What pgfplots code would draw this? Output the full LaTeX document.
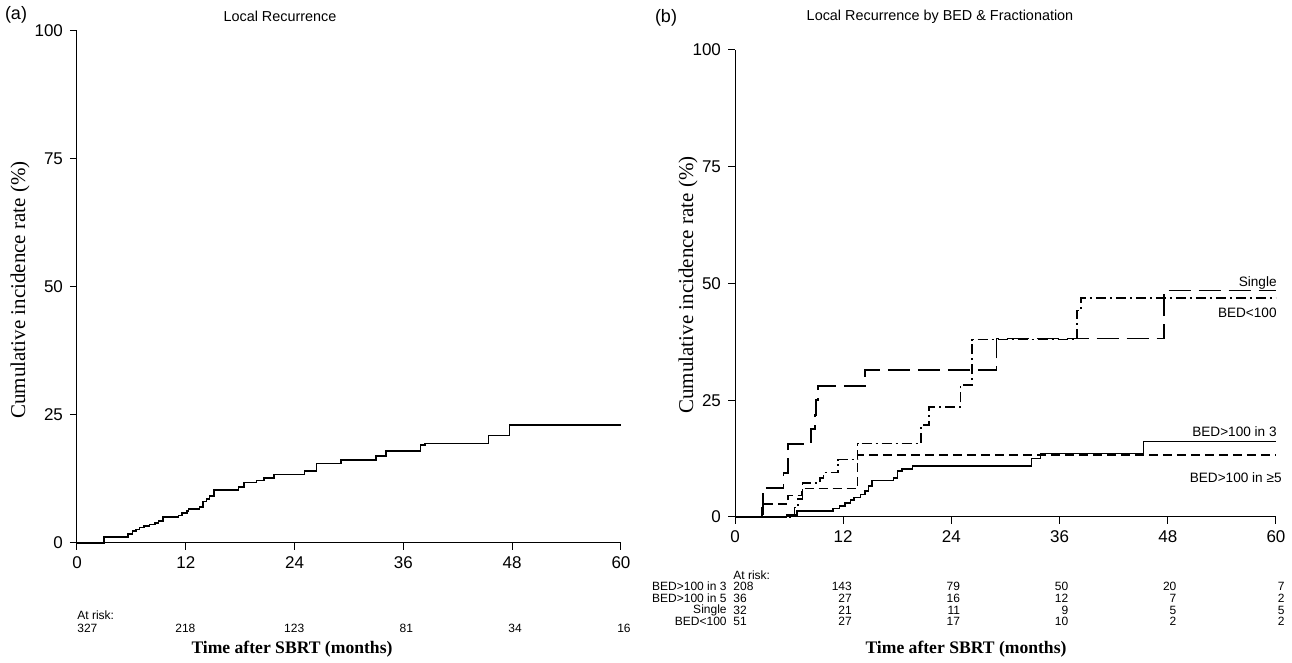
\documentclass[border=0pt]{standalone}
\usepackage{fontspec}
\setmainfont{Liberation Sans}
\newfontfamily\tnr{Liberation Serif}
\usepackage{pgfplots}
\pgfplotsset{compat=1.18}

\newcommand{\fs}[1]{\fontsize{#1}{#1}\selectfont}

\pgfplotsset{
  km/.style={
    scale only axis, axis lines*=left,
    xmin=0, xmax=60, ymin=0, ymax=100,
    xtick={0,12,...,60}, ytick={0,25,50,75,100},
    tick align=outside, major tick length=3.5pt,
    tick style={black, line width=0.5pt},
    axis line style={black, line width=0.5pt},
    ticklabel style={font=\fs{8.5}},
    /pgf/number format/assume math mode=true,
    clip=false,
  },
  curve/.style={black, line width=0.8pt, const plot mark left, mark=none},
  longdash/.style={dash pattern=on 11pt off 4pt},
  shortdash/.style={dash pattern=on 4.5pt off 2.5pt},
  dashdot/.style={dash pattern=on 5pt off 2pt on 1pt off 2pt},
}

\begin{document}
\begin{tikzpicture}

% ---------- (a) overall ----------
\begin{axis}[km, at={(38.5pt,60pt)}, anchor=south west, width=272pt, height=256pt]
\addplot[curve] coordinates {
  (0,0)(3.0,1.2)(5.6,1.8)(6.1,2.4)(6.5,2.6)(6.9,3.0)(7.4,3.3)(8.0,3.6)
  (8.6,3.9)(9.0,4.3)(9.5,5.1)(11.2,5.4)(11.6,5.8)(12.1,6.25)(12.3,6.6)
  (13.5,7.0)(13.9,8.1)(14.3,8.6)(14.6,9.2)(15.1,10.4)(17.8,10.9)(18.4,11.8)
  (19.8,12.2)(20.6,12.7)(21.7,13.4)(25.1,14.1)(26.4,15.5)(29.1,16.25)
  (33.0,17.0)(34.1,18.0)(37.9,19.1)(38.4,19.4)(45.4,21.0)(47.7,23.0)(60,23.0)
};
\end{axis}

% ---------- (b) by BED & fractionation ----------
\begin{axis}[km, at={(367.5pt,73pt)}, anchor=south west, width=270.5pt, height=233.5pt]
% Single
\addplot[curve, longdash] coordinates {
  (0,0)(3.1,6.25)(5.4,9.4)(5.9,15.6)(8.4,18.8)(8.9,21.9)(9.0,25.0)(9.2,28.1)
  (14.4,31.5)(29.0,38.2)(47.6,48.5)(60,48.5)
};
% BED<100
\addplot[curve, dashdot] coordinates {
  (0,0)(6.6,2.0)(7.0,3.9)(7.5,7.3)(9.4,8.4)(9.8,9.5)(11.4,12.3)(13.6,15.7)
  (20.6,19.7)(21.5,23.5)(25.0,28.3)(26.3,38.0)(37.9,44.2)(38.4,46.9)(60,46.9)
};
% BED>100 in >=5
\addplot[curve, shortdash] coordinates {
  (0,0)(3.0,2.8)(5.9,4.6)(7.4,6.1)(13.6,13.3)(60,13.3)
};
% BED>100 in 3
\addplot[curve] coordinates {
  (0,0)(5.7,0.4)(6.9,1.3)(10.9,1.8)(11.6,2.4)(12.2,3.0)(12.8,3.6)(13.2,4.2)
  (13.9,4.8)(14.4,5.6)(14.8,6.6)(15.2,7.8)(17.6,8.3)(18.0,9.8)(18.5,10.3)
  (19.7,10.9)(32.9,12.5)(33.9,13.6)(45.3,16.2)(60,16.2)
};
\end{axis}

\begin{scope}[x=0.5pt, y=0.5pt]
% panel letters and titles
\node[font=\fs{9}] at (16,648) {(a)};
\node[font=\fs{9}] at (666,645) {(b)};
\node[font=\fs{7.2}] at (280,647) {Local Recurrence};
\node[font=\fs{7.2}] at (940,646) {Local Recurrence by BED \& Fractionation};

% axis labels
\node[font=\tnr\fs{10.5}, rotate=90] at (20,373) {Cumulative incidence rate (\%)};
\node[font=\tnr\fs{10.5}, rotate=90] at (688,378) {Cumulative incidence rate (\%)};
\node[font=\tnr\bfseries\fs{8.8}] at (292,14) {Time after SBRT (months)};
\node[font=\tnr\bfseries\fs{8.8}] at (966,14) {Time after SBRT (months)};

% curve labels
\begin{scope}[every node/.style={font=\fs{6.8}, anchor=east, inner sep=0pt}]
\node at (1277,380) {Single};
\node at (1277,350) {BED<100};
\node at (1277,231) {BED>100 in 3};
\node at (1282,185) {BED>100 in ≥5};
\end{scope}

% numbers at risk, panel (a)
\begin{scope}[every node/.style={font=\fs{6}, inner sep=0pt}]
\node[anchor=west] at (77,48) {At risk:};
\node[anchor=west] at (77,35) {327};
\node[anchor=east] at (195.8,35) {218};
\node[anchor=east] at (304.6,35) {123};
\node[anchor=east] at (413.4,35) {81};
\node[anchor=east] at (522.2,35) {34};
\node[anchor=east] at (631,35) {16};
\end{scope}

% numbers at risk, panel (b)
\begin{scope}[every node/.style={font=\fs{6}, inner sep=0pt}]
\node[anchor=west] at (733,88) {At risk:};
\node[anchor=east] at (727,77) {BED>100 in 3};
\node[anchor=east] at (727,65) {BED>100 in 5};
\node[anchor=east] at (727,53) {Single};
\node[anchor=east] at (727,42) {BED<100};
\foreach \y/\a/\b/\c/\d/\e/\f in {77/208/143/79/50/20/7, 65/36/27/16/12/7/2,
                                   53/32/21/11/9/5/5, 42/51/27/17/10/2/2} {
  \node[anchor=west] at (733,\y) {\a};
  \node[anchor=east] at (852.2,\y) {\b};
  \node[anchor=east] at (960.4,\y) {\c};
  \node[anchor=east] at (1068.6,\y) {\d};
  \node[anchor=east] at (1176.8,\y) {\e};
  \node[anchor=east] at (1285,\y) {\f};
}
\end{scope}

\pgfresetboundingbox
\path[use as bounding box] (0,0) rectangle (1292,663);
\end{scope}
\end{tikzpicture}
\end{document}
